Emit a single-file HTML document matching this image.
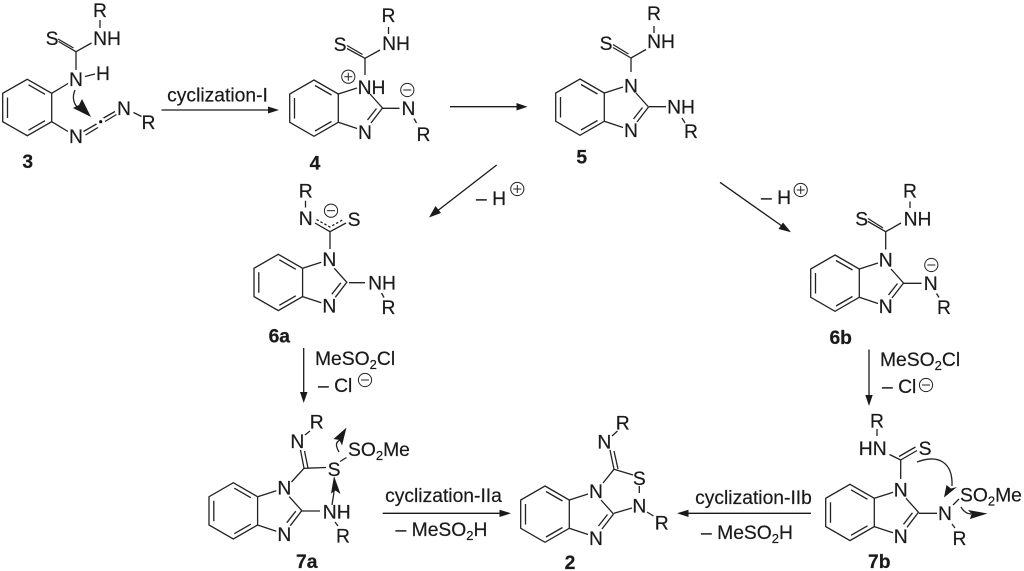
<!DOCTYPE html>
<html><head><meta charset="utf-8"><style>
html,body{margin:0;padding:0;background:#fff}
svg{display:block}
text{font-family:"Liberation Sans",Arial,sans-serif;font-size:19.3px;fill:#1a1a1a;stroke:#1a1a1a;stroke-width:.2px}
.m{text-anchor:middle}
.b{font-weight:bold}
.l{stroke:#222;stroke-width:1.3;fill:none;stroke-linecap:butt}
.a{stroke:#1a1a1a;stroke-width:1.3;fill:none}
.h{fill:#1a1a1a;stroke:none}
.c{stroke:#222;stroke-width:1;fill:#fff}
</style></head><body>
<svg width="1024" height="571" viewBox="0 0 1024 571" xmlns="http://www.w3.org/2000/svg">
<defs>
<g id="bi" class="l">
<path d="M0 0L24.3 14V42.3L0 56.3L-24.3 42.3V14Z"/>
<path d="M-19.5 18V38.5M1 5.5L17.5 15M1 51L17.5 41.5"/>
<path d="M24.3 14L43 8M24.3 42.3L43 48.5M56 14L68.5 28L57 43M62.5 28.5L53.5 40"/>
</g>
<g id="p"><circle class="c" r="6.6"/><path class="l" d="M-4 0H4M0 -4V4" style="stroke-width:1"/></g>
<g id="n"><circle class="c" r="6.6"/><path class="l" d="M-4 0H4" style="stroke-width:1"/></g>
</defs>

<!-- 3 -->
<g class="l">
<path d="M27.3 79.3L51.7 93.3V121.7L27.3 135.7L2.7 121.7V93.3Z"/>
<path d="M7.5 97.5V118M28.5 84.8L45 94.3M28.5 130.2L45 120.7"/>
<path d="M51.7 93.3L68 83.5M51.7 121.7L68 131.5M76 51.7V70M85 76.5L95 74"/>
<path d="M76 51.7L58.5 41.5M73.5 48L58 39M76 51.7L91.5 43M100 20V28"/>
<path d="M83.5 131.5L96.5 124M85.5 135L98 127.5M103.5 118L115 111.5M105 121.5L116.5 114.5M133.5 112.5L141.5 116.5"/>
</g>
<circle cx="100.7" cy="121.7" r="1.6" fill="#111"/>
<path class="l" d="M75 90C72 97 73 105 80 109"/><path class="h" d="M91 117L73 108L79 105L82 99Z"/>
<text x="52" y="45" class="m">S</text><text x="107" y="45" class="m">NH</text><text x="100" y="17" class="m">R</text>
<text x="76" y="86" class="m">N</text><text x="103" y="80" class="m">H</text>
<text x="76" y="143" class="m">N</text><text x="124" y="115" class="m">N</text><text x="148.5" y="129" class="m">R</text>
<text x="27.7" y="168" class="m b">3</text>

<!-- arrow I -->
<path class="a" d="M161.5 110H270"/><path class="h" d="M279 110L268 106.5V113.500Z"/>
<text x="217.500" y="101.500" class="m">cyclization-I</text>

<!-- 4 -->
<use href="#bi" x="314" y="80"/>
<g class="l"><path d="M365 58.300V75M365 58.300L347 48.500M362.500 54.500L347 45.500M365 58.300L380 50M388.500 27V34M382.500 108.300H399.500M414 118.500L416.500 123"/></g>
<text x="340" y="51" class="m">S</text><text x="396" y="50" class="m">NH</text><text x="388.500" y="22" class="m">R</text>
<text x="371.500" y="94" class="m">NH</text><text x="365" y="139" class="m">N</text><text x="408.500" y="115" class="m">N</text><text x="423.500" y="141" class="m">R</text>
<use href="#p" x="348.300" y="76.700"/><use href="#n" x="407.300" y="90"/>
<text x="315" y="169.500" class="m b">4</text>

<path class="a" d="M450 106.700H519"/><path class="h" d="M527.500 106.700L516.500 103V110.500Z"/>

<!-- 5 -->
<use href="#bi" x="580" y="79"/>
<g class="l"><path d="M631 58V72M631 58L613 47.500M628.500 54L613 44.500M631 58L646 49.500M654 26V33M649 106.700H666M682 118L685 123"/></g>
<text x="606" y="50" class="m">S</text><text x="661" y="48" class="m">NH</text><text x="654" y="20" class="m">R</text>
<text x="631" y="92.500" class="m">N</text><text x="631" y="137" class="m">N</text><text x="681" y="113.500" class="m">NH</text><text x="691" y="138" class="m">R</text>
<text x="581.700" y="163.500" class="m b">5</text>

<!-- 6a arrow -->
<path class="a" d="M496.700 165L436 212"/><path class="h" d="M429 217.500L441 213L435.500 206Z"/>
<text x="476" y="205" >– H</text><use href="#p" x="517.300" y="189"/>

<!-- 6a -->
<use href="#bi" x="278.300" y="254.300"/>
<g class="l"><path d="M330 231.700V249M349 282.700H365M381.500 293L384 297.500M305.500 200.700V207.500M330 231.700L315 223M330 231.700L346 223"/>
<path d="M316.500 219.500L330 227L344 219" stroke-dasharray="2.500 2"/></g>
<text x="305.700" y="225" class="m">N</text><text x="354" y="226" class="m">S</text><text x="305.700" y="197.500" class="m">R</text>
<text x="329.300" y="266" class="m">N</text><text x="329.300" y="312.500" class="m">N</text><text x="382" y="289.500" class="m">NH</text><text x="388.500" y="314" class="m">R</text>
<use href="#n" x="331" y="210.700"/>
<text x="279.300" y="342.500" class="m b">6a</text>

<!-- 6b arrow -->
<path class="a" d="M720 182.300L784 227.500"/><path class="h" d="M791 232.300L783 222.500L778.500 229Z"/>
<text x="761" y="204">– H</text><use href="#p" x="800.700" y="190"/>

<!-- 6b -->
<use href="#bi" x="835" y="255"/>
<g class="l"><path d="M885.700 231.700V249.500M885.700 231.700L868 221.500M883 228L868 218.500M885.700 231.700L901 223M910 201.500V208M903 283.300H921.500M936.500 293.500L939 297.500"/></g>
<text x="861.700" y="225.500" class="m">S</text><text x="917.500" y="225.500" class="m">NH</text><text x="910" y="197.500" class="m">R</text>
<text x="885.700" y="266.500" class="m">N</text><text x="885.700" y="313" class="m">N</text><text x="930.700" y="290" class="m">N</text><text x="944" y="314" class="m">R</text>
<use href="#n" x="931.300" y="265"/>
<text x="840.700" y="344" class="m b">6b</text>

<!-- vertical arrows -->
<path class="a" d="M303.700 348V394"/><path class="h" d="M303.700 403L300 392H307.500Z"/>
<text x="315" y="365">MeSO<tspan font-size="13" dy="4">2</tspan><tspan dy="-4">Cl</tspan></text>
<text x="318" y="392">– Cl</text><use href="#n" x="365" y="380"/>

<path class="a" d="M869 349.500V397"/><path class="h" d="M869 406L865.300 395H872.700Z"/>
<text x="880" y="366">MeSO<tspan font-size="13" dy="4">2</tspan><tspan dy="-4">Cl</tspan></text>
<text x="882" y="393">– Cl</text><use href="#n" x="926" y="385"/>

<!-- 7a -->
<use href="#bi" x="233.300" y="482.700"/>
<g class="l"><path d="M291.500 482L304 468.300L326 467.500M304 468.300L300.500 450M308 468L304.500 451M305 435L310 431M340 461.500L346.500 457.500M301 511H320M335 522L338 526"/>
<path d="M339 452C335 445 336 442 340 440M332 505C333 498 334 494 334 490"/></g>
<path class="h" d="M346.500 427.500L333.500 439L339.500 440L342 445.500Z"/>
<path class="h" d="M334 476L331 493.500L335.500 490.500L340.500 494Z"/>
<text x="297.300" y="448" class="m">N</text><text x="316.700" y="428.500" class="m">R</text>
<text x="334" y="476" class="m">S</text>
<text x="348" y="456">SO<tspan font-size="13" dy="4">2</tspan><tspan dy="-4">Me</tspan></text>
<text x="284.300" y="494.500" class="m">N</text><text x="284.300" y="541" class="m">N</text><text x="336.700" y="518.500" class="m">NH</text><text x="343" y="542.500" class="m">R</text>
<text x="306.700" y="568" class="m b">7a</text>

<!-- arrow IIa -->
<path class="a" d="M382.700 513.300H502"/><path class="h" d="M511 513.300L499.500 509.700V517Z"/>
<text x="443.500" y="502" class="m">cyclization-IIa</text>
<text x="441.500" y="536" class="m">– MeSO<tspan font-size="13" dy="4">2</tspan><tspan dy="-4">H</tspan></text>

<!-- 2 -->
<use href="#bi" x="545" y="486"/>
<g class="l"><path d="M603 483L614 469.300L633 475M614 469.300L610 450M618 469L614 451M612 436L617.500 431M639.300 486V493M614 513.300L632 508M647 512L653.500 516"/></g>
<text x="604.300" y="448.500" class="m">N</text><text x="622.700" y="429.500" class="m">R</text>
<text x="639.300" y="485" class="m">S</text><text x="639.300" y="512.500" class="m">N</text><text x="661.700" y="529.500" class="m">R</text>
<text x="596" y="498" class="m">N</text><text x="596" y="545" class="m">N</text>
<text x="570" y="569" class="m b">2</text>

<!-- arrow IIb -->
<path class="a" d="M686 513.300H811"/><path class="h" d="M677 513.300L688.500 509.700V517Z"/>
<text x="753.500" y="504" class="m">cyclization-IIb</text>
<text x="747" y="539" class="m">– MeSO<tspan font-size="13" dy="4">2</tspan><tspan dy="-4">H</tspan></text>

<!-- 7b -->
<use href="#bi" x="850" y="484.300"/>
<g class="l"><path d="M900.700 460V479M900.700 460L889.500 454.500M900.700 460L917 450.500M899 456.500L915.500 447M877 429V436M919 513.300H937M952 524L955 528M953 505L959 499"/>
<path d="M917 462C938 454 953 462 952 486"/><path d="M961 507C964 512 967 514 971 514"/></g>
<path class="h" d="M944 497.500L946.500 485L951 488.500L957 487Z"/>
<path class="h" d="M987.500 513.500L968 510L971.500 514L970 519Z"/>
<text x="872.700" y="455" class="m">HN</text><text x="877" y="427.500" class="m">R</text><text x="925" y="455" class="m">S</text>
<text x="900.700" y="496.500" class="m">N</text><text x="900.700" y="543" class="m">N</text><text x="945" y="520" class="m">N</text><text x="959.500" y="545" class="m">R</text>
<text x="960" y="501.500">SO<tspan font-size="13" dy="4">2</tspan><tspan dy="-4">Me</tspan></text>
<text x="879.300" y="568" class="m b">7b</text>
</svg>
</body></html>
